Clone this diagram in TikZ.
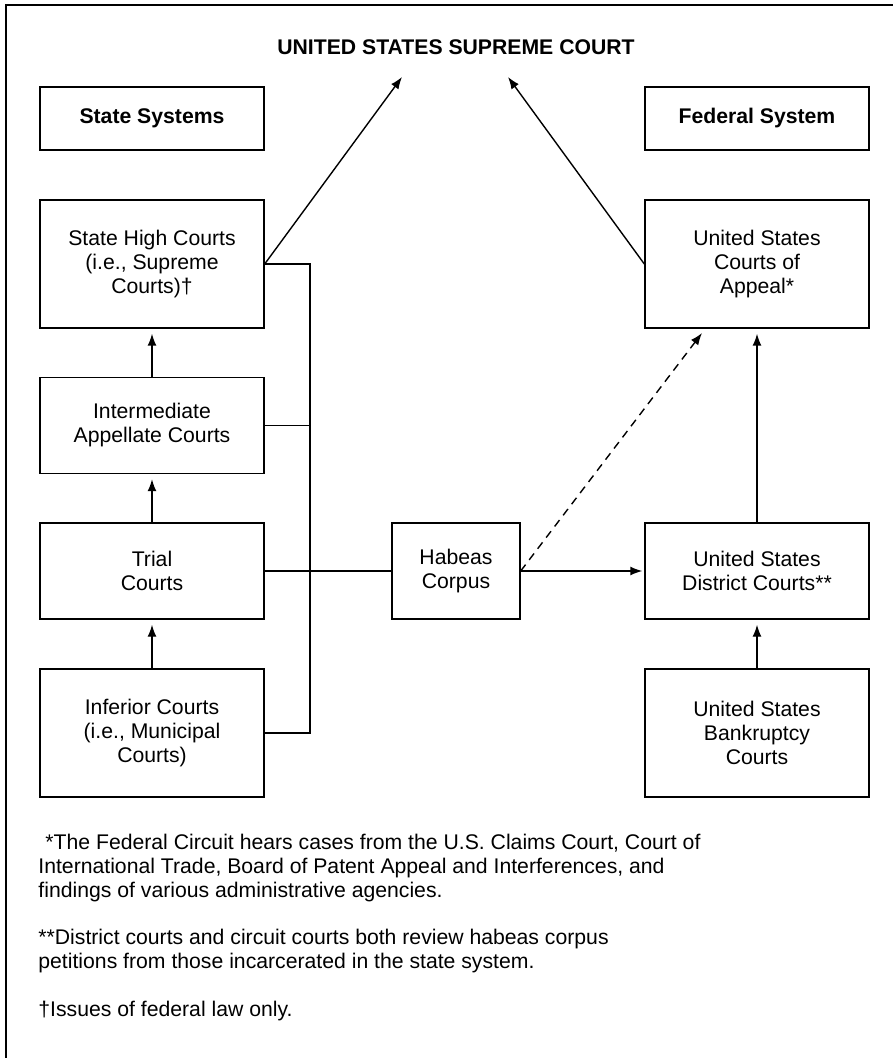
\documentclass[tikz,border=0pt]{standalone}
\usepackage{fontspec}
\setmainfont{Liberation Sans}
\usetikzlibrary{arrows.meta}
\tikzset{
  courtbox/.style={draw, line width=0.7pt, inner sep=0pt, minimum width=112pt, align=center, font=\fontsize{10.6}{12}\selectfont},
  tallbox/.style={courtbox, minimum height=64pt},
  midbox/.style={courtbox, minimum height=48pt},
  headbox/.style={courtbox, minimum height=31.5pt, font=\fontsize{10.6}{12}\selectfont\bfseries},
  wire/.style={line width=0.7pt},
  feed/.style={wire, -{Latex[length=6pt,width=4.5pt]}, shorten >=2.5pt},
  note/.style={anchor=north west, inner sep=0pt, align=left, font=\fontsize{10.6}{12}\selectfont}
}
\begin{document}
\begin{tikzpicture}[x=0.5pt,y=-0.5pt]
    \useasboundingbox (0,0) rectangle (893,1058);
    \draw[line width=1pt] (6,1058) -- (6,5) -- (893,5);

    \node[font=\fontsize{10.6}{12}\selectfont\bfseries] (supreme) at (456,47) {UNITED STATES SUPREME COURT};
    \coordinate (stip) at (402,77);
    \coordinate (ftip) at (508,77);

    %% state side
    \node[headbox] (statesys) at (152,118.5) {State Systems};
    \node[tallbox] (high) at (152,264) {State High Courts\\(i.e., Supreme\\Courts)\textdagger};
    \node[midbox] (inter) at (152,425.5) {Intermediate\\Appellate Courts};
    \node[midbox] (trial) at (152,571) {Trial\\Courts};
    \node[tallbox] (inferior) at (152,733) {Inferior Courts\\(i.e., Municipal\\Courts)};

    %% federal side
    \node[headbox] (fedsys) at (757,118.5) {Federal System};
    \node[tallbox] (appeal) at (757,264) {United States\\Courts of\\Appeal*};
    \node[midbox] (district) at (757,571) {United States\\District Courts**};
    \node[tallbox] (bankr) at (757,733) {United States\\Bankruptcy\\Courts};

    \node[courtbox, minimum width=64pt, minimum height=48pt] (habeas) at (456,571) {Habeas\\Corpus};

    %% arrows up the ladders
    \draw[feed, shorten >=0pt] (high.east) -- (stip);
    \draw[feed, shorten >=0pt] (appeal.west) -- (ftip);
    \draw[feed] (inter.north) -- (high.south);
    \draw[feed] (trial.north) -- (inter.south);
    \draw[feed] (inferior.north) -- (trial.south);
    \draw[feed] (district.north) -- (appeal.south);
    \draw[feed] (bankr.north) -- (district.south);

    %% bus on the state side
    \coordinate (bus) at (310,264);
    \draw[wire] (high.east) -- (bus) |- (inferior.east);
    \draw[wire] (inter.east) -- (inter.east -| bus);
    \draw[wire] (trial.east) -- (habeas.west);

    \coordinate (dtip) at (702,333);
    \draw[feed, shorten >=1pt] (habeas.east) -- (district.west);
    \draw[feed, shorten >=0pt, dash pattern=on 4pt off 3pt] (habeas.east) -- (dtip);

    %% footnotes
    \node[note] (fnone) at (38,834) {\hspace*{3.5pt}*The Federal Circuit hears cases from the U.S. Claims Court, Court of\\International Trade, Board of Patent Appeal and Interferences, and\\findings of various administrative agencies.};
    \node[note] (fntwo) at (38,929) {**District courts and circuit courts both review habeas corpus\\petitions from those incarcerated in the state system.};
    \node[note] (fnthree) at (38,1001) {\textdagger Issues of federal law only.};
\end{tikzpicture}
\end{document}
